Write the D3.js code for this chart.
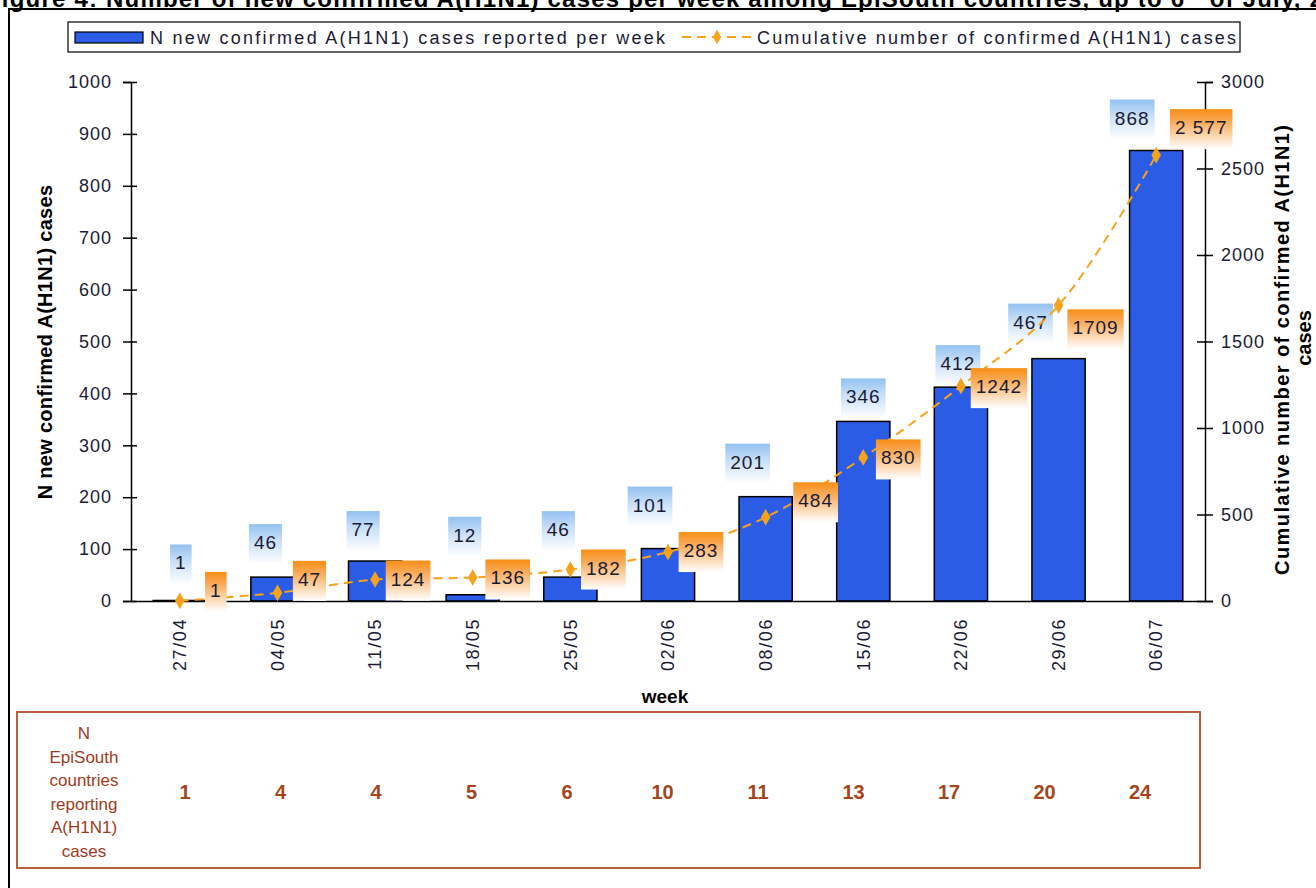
<!DOCTYPE html>
<html>
<head>
<meta charset="utf-8">
<script src="https://cdn.jsdelivr.net/npm/d3@7"></script>
<style>
body { margin: 0; background: #ffffff; }
svg { display: block; font-family: "Liberation Sans", Arial, sans-serif; }
</style>
</head>
<body>
<div id="h1n1-chart"></div>
<script>
var weeks = ["27/04", "04/05", "11/05", "18/05", "25/05", "02/06", "08/06", "15/06", "22/06", "29/06", "06/07"];
var newCases = [1, 46, 77, 12, 46, 101, 201, 346, 412, 467, 868];
var cumCases = [1, 47, 124, 136, 182, 283, 484, 830, 1242, 1709, 2577];
var cumLabels = ["1", "47", "124", "136", "182", "283", "484", "830", "1242", "1709", "2 577"];
var countries = [1, 4, 4, 5, 6, 10, 11, 13, 17, 20, 24];
var leftTicks = [0, 100, 200, 300, 400, 500, 600, 700, 800, 900, 1000];
var rightTicks = [0, 500, 1000, 1500, 2000, 2500, 3000];
var tableHeader = ["N", "EpiSouth", "countries", "reporting", "A(H1N1)", "cases"];

// labels were dragged by hand in the original, so keep per-label nudges (dx, dy)
var barLabelNudge = [[1, -38], [-12, -35], [-12, -32], [-8, -60], [-12, -48], [-18, -44], [-18, -35], [0, -25], [-3, -24], [-28, -37], [-24, -33]];
var cumLabelNudge = [[36, -11], [32, -14], [33, -1], [35, 0], [33, -2], [33, -2], [50, -17], [35, 0], [38, 0], [37, 22], [45, -28]];

function H1N1Chart() {
    var self = this;
    self.w = 1316;
    self.h = 888;
    self.left = 131;
    self.right = 1205;
    self.top = 82;
    self.bottom = 601;
    self.font = "Liberation Sans, Arial, sans-serif";
    self.tick_color = "#1a1a33";

    self.init = function () {
        self.svg = d3.select("#h1n1-chart").append("svg")
            .attr("width", self.w)
            .attr("height", self.h);
        self.x = d3.scaleBand().domain(weeks)
            .range([self.left, self.right])
            .paddingInner(0.455).paddingOuter(0.2275);
        self.y = d3.scaleLinear().domain([0, 1000]).range([self.bottom, self.top]);
        self.y2 = d3.scaleLinear().domain([0, 3000]).range([self.bottom, self.top]);
        self.xc = function (d) { return self.x(d) + self.x.bandwidth() / 2; };

        self.defs();
        self.frame();
        self.legend();
        self.bars();
        self.axes();
        self.barLabels();
        self.line();
        self.cumLabels();
        self.table();
    };

    self.defs = function () {
        var defs = self.svg.append("defs");
        var blue = defs.append("linearGradient").attr("id", "blue-lbl")
            .attr("x1", 0).attr("y1", 0).attr("x2", 0).attr("y2", 1);
        blue.append("stop").attr("offset", "0%").attr("stop-color", "#93c1f1");
        blue.append("stop").attr("offset", "40%").attr("stop-color", "#c6def8");
        blue.append("stop").attr("offset", "100%").attr("stop-color", "#ffffff");
        var orange = defs.append("linearGradient").attr("id", "orange-lbl")
            .attr("x1", 0).attr("y1", 0).attr("x2", 0).attr("y2", 1);
        orange.append("stop").attr("offset", "0%").attr("stop-color", "#f78f16");
        orange.append("stop").attr("offset", "30%").attr("stop-color", "#f9a957");
        orange.append("stop").attr("offset", "100%").attr("stop-color", "#ffffff");
    };

    self.frame = function () {
        var t = self.svg.append("text")
            .attr("x", -14).attr("y", 7)
            .attr("font-size", 24).attr("font-weight", "bold")
            .attr("letter-spacing", 1.2)
            .attr("fill", "#000");
        t.append("tspan").text("Figure 4: Number of new confirmed A(H1N1) cases per week among EpiSouth countries, up to 6");
        t.append("tspan").attr("font-size", 15).attr("dy", -9).text("th");
        t.append("tspan").attr("dy", 9).text(" of July, 2009");
        self.svg.append("line").attr("x1", 8).attr("x2", self.w).attr("y1", 9).attr("y2", 9)
            .attr("stroke", "#000").attr("stroke-width", 2);
        self.svg.append("line").attr("x1", 9).attr("x2", 9).attr("y1", 9).attr("y2", self.h)
            .attr("stroke", "#000").attr("stroke-width", 2);
    };

    self.legend = function () {
        var g = self.svg.append("g");
        g.append("rect").attr("x", 68).attr("y", 22).attr("width", 1172).attr("height", 30)
            .attr("fill", "#fff").attr("stroke", "#000").attr("stroke-width", 1.2);
        g.append("rect").attr("x", 75).attr("y", 32).attr("width", 68).attr("height", 11)
            .attr("fill", "#2b5ce6").attr("stroke", "#000").attr("stroke-width", 1.2);
        g.append("text").attr("x", 150).attr("y", 44).attr("font-size", 18)
            .attr("textLength", 515).attr("lengthAdjust", "spacing")
            .attr("fill", self.tick_color)
            .text("N new confirmed A(H1N1) cases reported per week");
        g.append("line").attr("x1", 682).attr("x2", 752).attr("y1", 37).attr("y2", 37)
            .attr("stroke", "#f7a21b").attr("stroke-width", 2).attr("stroke-dasharray", "9,6");
        g.append("path").attr("d", d3.symbol().type(d3.symbolDiamond).size(60))
            .attr("transform", "translate(717,37)").attr("fill", "#f7a21b");
        g.append("text").attr("x", 757).attr("y", 44).attr("font-size", 18)
            .attr("textLength", 479).attr("lengthAdjust", "spacing")
            .attr("fill", self.tick_color)
            .text("Cumulative number of confirmed A(H1N1) cases");
    };

    self.bars = function () {
        self.svg.append("g").selectAll("rect")
            .data(newCases)
            .enter()
            .append("rect")
            .attr("x", function (d, i) { return self.x(weeks[i]); })
            .attr("y", function (d) { return self.y(d); })
            .attr("width", self.x.bandwidth())
            .attr("height", function (d) { return self.bottom - self.y(d); })
            .attr("fill", "#2b5ce6")
            .attr("stroke", "#000")
            .attr("stroke-width", 1.5);
    };

    self.axes = function () {
        var gl = self.svg.append("g")
            .attr("transform", "translate(" + self.left + ",0)")
            .call(d3.axisLeft(self.y).tickValues(leftTicks).tickFormat(d3.format("d"))
                .tickSize(8).tickPadding(11));
        gl.selectAll(".tick line").attr("x2", -8).attr("x1", 6);
        var gr = self.svg.append("g")
            .attr("transform", "translate(" + self.right + ",0)")
            .call(d3.axisRight(self.y2).tickValues(rightTicks).tickFormat(d3.format("d"))
                .tickSize(8).tickPadding(8));
        gr.selectAll(".tick line").attr("x2", 8).attr("x1", -8);
        [gl, gr].forEach(function (g) {
            g.select(".domain").attr("stroke", "#000").attr("stroke-width", 1.5);
            g.selectAll(".tick line").attr("stroke", "#000").attr("stroke-width", 1.5);
            g.selectAll(".tick text")
                .attr("font-size", 18).attr("letter-spacing", 1)
                .attr("font-family", self.font)
                .attr("fill", self.tick_color);
        });
        // horizontal baseline, no ticks on the category axis
        var gx = self.svg.append("g")
            .attr("transform", "translate(0," + self.bottom + ")")
            .call(d3.axisBottom(self.x).tickSize(0).tickSizeOuter(0));
        gx.select(".domain").attr("stroke", "#000").attr("stroke-width", 1.5);
        gx.selectAll(".tick text")
            .attr("font-size", 18).attr("letter-spacing", 1.6)
            .attr("font-family", self.font)
            .attr("fill", self.tick_color)
            .attr("text-anchor", "end")
            .attr("dy", "0.35em")
            .attr("transform", "translate(0,17) rotate(-90)")
            .attr("x", 0).attr("y", 0);

        self.svg.append("text").attr("x", 665).attr("y", 703)
            .attr("text-anchor", "middle").attr("font-size", 19).attr("font-weight", "bold")
            .text("week");
        self.svg.append("text")
            .attr("transform", "translate(52,342) rotate(-90)")
            .attr("text-anchor", "middle").attr("font-size", 20).attr("font-weight", "bold")
            .attr("letter-spacing", 0.3)
            .text("N new confirmed A(H1N1) cases");
        self.svg.append("text")
            .attr("transform", "translate(1289,350) rotate(-90)")
            .attr("text-anchor", "middle").attr("font-size", 20).attr("font-weight", "bold")
            .attr("textLength", 450).attr("lengthAdjust", "spacing")
            .text("Cumulative number of confirmed A(H1N1)");
        self.svg.append("text")
            .attr("transform", "translate(1311,338) rotate(-90)")
            .attr("text-anchor", "middle").attr("font-size", 20).attr("font-weight", "bold")
            .text("cases");
    };

    self.boxLabel = function (g, cx, cy, txt, fill) {
        var t = g.append("text").attr("x", cx).attr("y", cy + 7)
            .attr("text-anchor", "middle").attr("font-size", 19)
            .attr("letter-spacing", 1)
            .attr("fill", self.tick_color).text(txt);
        var w = t.node().getComputedTextLength() + 10;
        g.insert("rect", function () { return t.node(); })
            .attr("x", cx - w / 2).attr("y", cy - 18)
            .attr("width", w).attr("height", 40)
            .attr("fill", fill);
    };

    self.barLabels = function () {
        var g = self.svg.append("g");
        newCases.forEach(function (d, i) {
            var cx = self.xc(weeks[i]) + barLabelNudge[i][0];
            var cy = self.y(d) + barLabelNudge[i][1];
            self.boxLabel(g, cx, cy, String(d), "url(#blue-lbl)");
        });
    };

    self.line = function () {
        var line = d3.line()
            .x(function (d, i) { return self.xc(weeks[i]); })
            .y(function (d) { return self.y2(d); })
            .curve(d3.curveCatmullRom);
        self.svg.append("path").datum(cumCases)
            .attr("d", line)
            .attr("fill", "none")
            .attr("stroke", "#f7a21b")
            .attr("stroke-width", 2)
            .attr("stroke-dasharray", "9,6");
        self.svg.append("g").selectAll("path")
            .data(cumCases)
            .enter()
            .append("path")
            .attr("d", d3.symbol().type(d3.symbolDiamond).size(80))
            .attr("transform", function (d, i) {
                return "translate(" + self.xc(weeks[i]) + "," + self.y2(d) + ")";
            })
            .attr("fill", "#f7a21b");
    };

    self.cumLabels = function () {
        var g = self.svg.append("g");
        cumCases.forEach(function (d, i) {
            var cx = self.xc(weeks[i]) + cumLabelNudge[i][0];
            var cy = self.y2(d) + cumLabelNudge[i][1];
            self.boxLabel(g, cx, cy, cumLabels[i], "url(#orange-lbl)");
        });
    };

    self.table = function () {
        var g = self.svg.append("g");
        g.append("rect").attr("x", 17).attr("y", 712).attr("width", 1183).attr("height", 156)
            .attr("fill", "none").attr("stroke", "#b9603c").attr("stroke-width", 2);
        g.selectAll("text.hdr")
            .data(tableHeader)
            .enter()
            .append("text")
            .attr("class", "hdr")
            .attr("x", 84)
            .attr("y", function (d, i) { return 739 + i * 23.6; })
            .attr("text-anchor", "middle")
            .attr("font-size", 17)
            .attr("fill", "#9e3b22")
            .text(function (d) { return d; });
        var cx = d3.scalePoint().domain(weeks).range([185, 1140]);
        g.selectAll("text.num")
            .data(countries)
            .enter()
            .append("text")
            .attr("class", "num")
            .attr("x", function (d, i) { return cx(weeks[i]); })
            .attr("y", 799)
            .attr("text-anchor", "middle")
            .attr("font-size", 20)
            .attr("font-weight", "bold")
            .attr("fill", "#a3461c")
            .text(function (d) { return d; });
    };
}

var chart = new H1N1Chart();
chart.init();
</script>
</body>
</html>
